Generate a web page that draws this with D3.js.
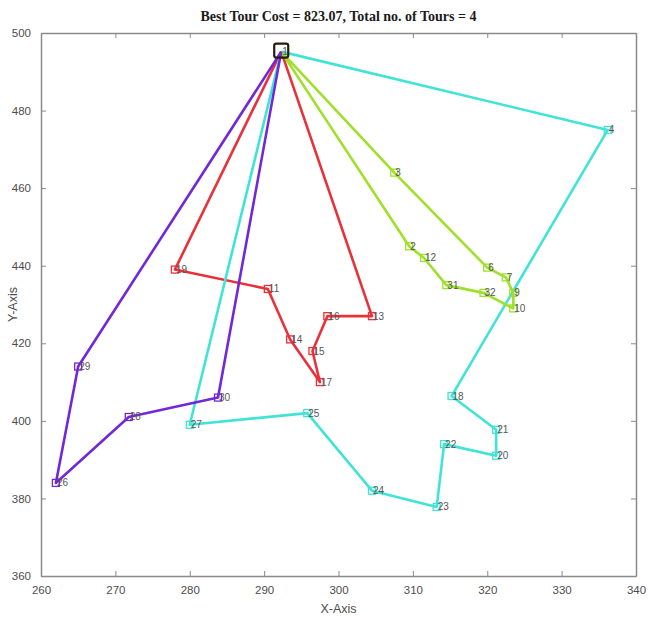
<!DOCTYPE html>
<html>
<head>
<meta charset="utf-8">
<script src="https://cdn.jsdelivr.net/npm/d3@7"></script>
<style>
  body { margin: 0; background: #fff; }
  text { font-family: "Liberation Sans", Arial, sans-serif; }
</style>
</head>
<body>
<svg id="chart"></svg>
<script>
var width = 648, height = 617
var margin = {top: 33, right: 12, bottom: 41, left: 41}

// depot
var depot = [292.3, 495.2]

// tours (cities visited in order, depot at start and end)
var redLabels = ["19", "11", "14", "17", "15", "16", "13"]
var redX = [278, 290.5, 293.5, 297.5, 296.5, 298.5, 304.5]
var redY = [439, 434, 421, 410, 418, 427, 427]

var greenLabels = ["3", "6", "7", "9", "10", "32", "31", "12", "2"]
var greenX = [307.5, 320, 322.5, 323.5, 323.5, 319.5, 314.5, 311.5, 309.5]
var greenY = [464, 439.5, 437, 433, 429, 433, 435, 442, 445]

var cyanLabels = ["4", "18", "21", "20", "22", "23", "24", "25", "27"]
var cyanX = [336.2, 315.2, 321.2, 321.2, 314.2, 313.2, 304.5, 295.8, 280]
var cyanY = [475, 406.4, 397.7, 391, 394, 377.8, 382, 402, 399]

var purpleLabels = ["30", "28", "26", "29"]
var purpleX = [283.8, 271.8, 262, 265]
var purpleY = [406, 401, 384, 414]

var xTicks = [260, 270, 280, 290, 300, 310, 320, 330, 340]
var yTicks = [360, 380, 400, 420, 440, 460, 480, 500]

var tours = [
    {colour: "#e8323a", labels: redLabels, xs: redX, ys: redY},
    {colour: "#40e4d6", labels: cyanLabels, xs: cyanX, ys: cyanY},
    {colour: "#9ee02a", labels: greenLabels, xs: greenX, ys: greenY},
    {colour: "#7028d8", labels: purpleLabels, xs: purpleX, ys: purpleY}
]

var svg = d3.select("#chart")
    .attr("width", width)
    .attr("height", height)

var x = d3.scaleLinear()
    .domain([260, 340])
    .range([margin.left, width - margin.right])

var y = d3.scaleLinear()
    .domain([360, 500])
    .range([height - margin.bottom, margin.top])

var axisColour = "#8a8a8a", labelColour = "#4d4d4d"

function styleAxis(g, showText) {
    g.select(".domain").attr("stroke", axisColour).attr("stroke-width", 1.5)
    g.selectAll(".tick line").attr("stroke", axisColour)
    g.selectAll(".tick text")
        .attr("fill", labelColour)
        .style("font-size", "11.5px")
        .style("display", showText ? null : "none")
}

svg.append("g")
    .attr("transform", "translate(0," + (height - margin.bottom) + ")")
    .call(d3.axisBottom(x).tickValues(xTicks).tickSizeInner(-5).tickSizeOuter(0).tickPadding(10))
    .call(g => styleAxis(g, true))

svg.append("g")
    .attr("transform", "translate(0," + margin.top + ")")
    .call(d3.axisTop(x).tickValues(xTicks).tickSizeInner(-5).tickSizeOuter(0))
    .call(g => styleAxis(g, false))

svg.append("g")
    .attr("transform", "translate(" + margin.left + ",0)")
    .call(d3.axisLeft(y).tickValues(yTicks).tickSizeInner(-5).tickSizeOuter(0).tickPadding(10))
    .call(g => styleAxis(g, true))

svg.append("g")
    .attr("transform", "translate(" + (width - margin.right) + ",0)")
    .call(d3.axisRight(y).tickValues(yTicks).tickSizeInner(-5).tickSizeOuter(0))
    .call(g => styleAxis(g, false))

var line = d3.line()
    .x(d => x(d[0]))
    .y(d => y(d[1]))

var plot = svg.append("g")

tours.forEach(function(t) {
    var pts = t.xs.map((v, i) => [v, t.ys[i]])
    var route = [depot].concat(pts, [depot])
    plot.append("path")
        .attr("d", line(route))
        .attr("fill", "none")
        .attr("stroke", t.colour)
        .attr("stroke-width", 2.6)
        .attr("stroke-linejoin", "round")
})

tours.forEach(function(t) {
    var pts = t.xs.map((v, i) => ({x: v, y: t.ys[i], label: t.labels[i]}))
    var g = plot.append("g")
    g.selectAll("rect")
        .data(pts)
        .enter()
        .append("rect")
        .attr("x", d => x(d.x) - 3.5)
        .attr("y", d => y(d.y) - 3.5)
        .attr("width", 7)
        .attr("height", 7)
        .attr("fill", "none")
        .attr("stroke", t.colour)
        .attr("stroke-width", 1.3)
    g.selectAll("text")
        .data(pts)
        .enter()
        .append("text")
        .attr("x", d => x(d.x) + 1)
        .attr("y", d => y(d.y))
        .attr("dy", "0.35em")
        .attr("fill", "#555")
        .style("font-size", "10px")
        .text(d => d.label)
})

// depot marker
plot.append("rect")
    .attr("x", x(depot[0]) - 7)
    .attr("y", y(depot[1]) - 8)
    .attr("width", 14)
    .attr("height", 14)
    .attr("rx", 2)
    .attr("fill", "none")
    .attr("stroke", "#2a1a0a")
    .attr("stroke-width", 2.2)
plot.append("text")
    .attr("x", x(depot[0]) + 1)
    .attr("y", y(depot[1]))
    .attr("dy", "0.35em")
    .attr("fill", "#555")
    .style("font-size", "10px")
    .text("1")

svg.append("text")
    .attr("x", (margin.left + width - margin.right) / 2)
    .attr("y", 21)
    .attr("text-anchor", "middle")
    .style("font-family", "'Liberation Serif', 'Times New Roman', serif")
    .style("font-weight", "bold")
    .style("font-size", "14px")
    .attr("fill", "#1a1a1a")
    .text("Best Tour Cost = 823.07, Total no. of Tours = 4")

svg.append("text")
    .attr("x", (margin.left + width - margin.right) / 2)
    .attr("y", 613)
    .attr("text-anchor", "middle")
    .attr("fill", "#4d4d4d")
    .style("font-size", "12.5px")
    .text("X-Axis")

svg.append("text")
    .attr("transform", "translate(17," + ((margin.top + height - margin.bottom) / 2) + ") rotate(-90)")
    .attr("text-anchor", "middle")
    .attr("fill", "#4d4d4d")
    .style("font-size", "12.5px")
    .text("Y-Axis")
</script>
</body>
</html>
